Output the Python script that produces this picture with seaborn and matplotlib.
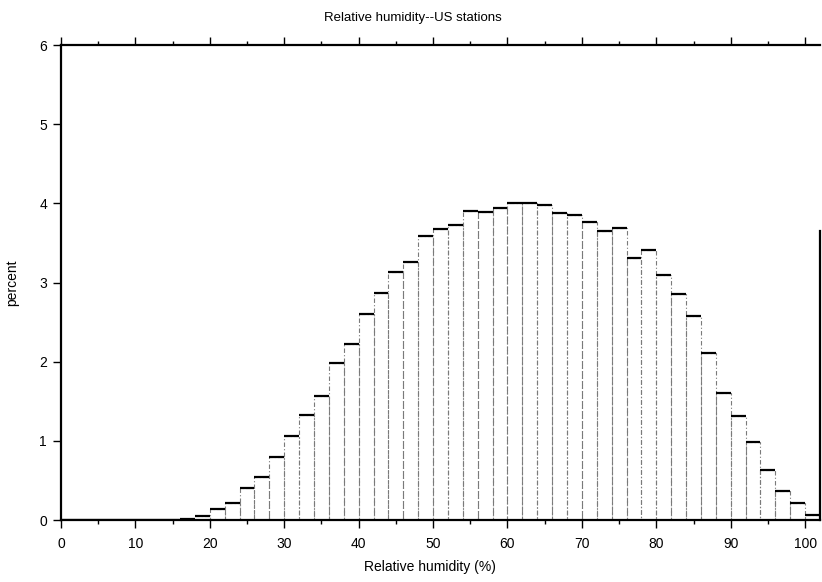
import matplotlib
matplotlib.use("Agg")
import matplotlib.pyplot as plt
import seaborn as sns
import numpy as np
import pandas as pd

# Bin left edges (2% wide bins) and percent of observations
bin_left = [0, 2, 4, 6, 8, 10, 12, 14, 16, 18, 20, 22, 24, 26, 28, 30, 32, 34, 36, 38,
            40, 42, 44, 46, 48, 50, 52, 54, 56, 58, 60, 62, 64, 66, 68, 70, 72, 74, 76, 78,
            80, 82, 84, 86, 88, 90, 92, 94, 96, 98, 100]
percent = [0.0, 0.0, 0.0, 0.0, 0.0, 0.0, 0.0, 0.005, 0.015, 0.05, 0.14, 0.22, 0.40, 0.54, 0.80,
           1.06, 1.33, 1.57, 1.98, 2.22, 2.60, 2.87, 3.13, 3.26, 3.59, 3.67, 3.73, 3.90, 3.89,
           3.94, 4.01, 4.01, 3.98, 3.88, 3.85, 3.76, 3.65, 3.69, 3.31, 3.41, 3.10, 2.85, 2.58,
           2.11, 1.60, 1.31, 0.99, 0.63, 0.37, 0.21, 0.06]
bin_width = 2
x_ticks = [0, 10, 20, 30, 40, 50, 60, 70, 80, 90, 100]
y_ticks = [0, 1, 2, 3, 4, 5, 6]

title = "Relative humidity--US stations"
xlabel = "Relative humidity (%)"
ylabel = "percent"

df = pd.DataFrame({"rh": np.array(bin_left) + bin_width / 2, "pct": percent})
edges = list(bin_left) + [bin_left[-1] + bin_width]

sns.set_theme(style="white", rc={"text.color": "black", "axes.labelcolor": "black",
                                 "xtick.color": "black", "ytick.color": "black"})
plt.rcParams["font.family"] = ["Liberation Sans", "DejaVu Sans"]

fig = plt.figure(figsize=(8.22, 5.82), dpi=100)
ax = fig.add_axes([61 / 822, 1 - 520 / 582, (820 - 61) / 822, (520 - 45) / 582])

# vertical bar sides: thin, broken grey lines
sns.histplot(data=df, x="rh", weights="pct", bins=edges, element="bars", fill=False,
             color="#7a7a7a", linewidth=0.8, linestyle=(0, (4, 2, 1, 2)), ax=ax)
# bar tops: solid black
ax.hlines(df["pct"], np.array(bin_left), np.array(bin_left) + bin_width,
          color="black", linewidth=1.6)

ax.set_xlim(0, 102)
ax.set_ylim(0, 6)
ax.set_xticks(x_ticks)
ax.set_xticks(np.arange(5, 101, 10), minor=True)
ax.set_yticks(y_ticks)
ax.tick_params(axis="x", which="major", direction="out", length=6, width=1, bottom=True,
               top=True, labelsize=10, color="black", pad=6)
ax.tick_params(axis="x", which="minor", direction="out", length=3, width=1, bottom=True,
               top=True, color="black")
ax.tick_params(axis="y", which="major", direction="out", length=6, width=1, left=True,
               labelsize=10, color="black", pad=4)

for s in ["left", "bottom", "top"]:
    ax.spines[s].set_color("black")
    ax.spines[s].set_linewidth(1.6)
ax.spines["right"].set_color("black")
ax.spines["right"].set_linewidth(1.6)
ax.spines["right"].set_bounds(0, 3.65)

ax.set_xlabel(xlabel, fontsize=10)
ax.set_ylabel(ylabel, fontsize=10)
ax.xaxis.set_label_coords(0.486, -0.085)
ax.yaxis.set_label_coords(-0.055, 0.5)
fig.text(0.502, 1 - 18 / 582, title, ha="center", va="center", fontsize=9.5)

fig.savefig("out.png", dpi=100)
